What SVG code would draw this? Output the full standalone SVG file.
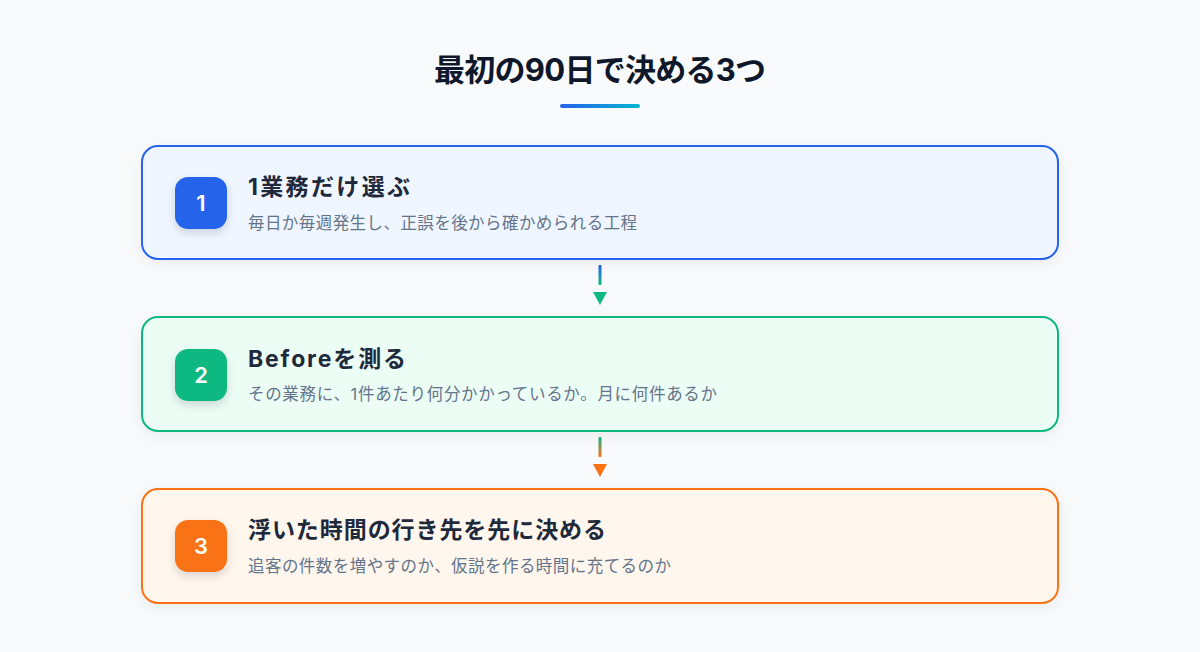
<svg xmlns="http://www.w3.org/2000/svg" width="1200" height="652" viewBox="0 0 1200 652">
<defs>
<linearGradient id="ul" x1="0" y1="0" x2="1" y2="0"><stop offset="0" stop-color="#2563eb"/><stop offset="1" stop-color="#06b6d4"/></linearGradient>
<linearGradient id="c1" x1="0" y1="0" x2="0" y2="1"><stop offset="0" stop-color="#2563eb"/><stop offset="1" stop-color="#10b981"/></linearGradient>
<linearGradient id="c2" x1="0" y1="0" x2="0" y2="1"><stop offset="0" stop-color="#10b981"/><stop offset="1" stop-color="#f97316"/></linearGradient>
<filter id="sh" x="-10%" y="-20%" width="120%" height="150%"><feDropShadow dx="0" dy="4" stdDeviation="8" flood-color="#0f172a" flood-opacity="0.06"/></filter>
<filter id="bsh" x="-40%" y="-40%" width="180%" height="180%"><feDropShadow dx="0" dy="4" stdDeviation="4" flood-color="#0f172a" flood-opacity="0.15"/></filter>
</defs>
<style>
.title{font-family:"Inter","Noto Sans CJK JP",sans-serif;font-weight:700;font-size:31px;fill:#0f172a}
.h{font-family:"Inter","Noto Sans CJK JP",sans-serif;font-weight:700;font-size:23px;fill:#1e293b}
.s{font-family:"Inter","Noto Sans CJK JP",sans-serif;font-size:16.5px;fill:#64748b}
.n{font-family:"Inter","Noto Sans",sans-serif;font-weight:600;font-size:22px;fill:#ffffff}
.box{stroke-width:2}
</style>
<rect width="1200" height="652" fill="#f8fafc"/>
<text class="title" x="600" y="81" text-anchor="middle" textLength="332" lengthAdjust="spacing">最初の90日で決める3つ</text>
<rect x="560" y="104" width="80" height="4" rx="2" fill="url(#ul)"/>
<g id="connectors">
<rect x="598.5" y="265" width="3" height="20" rx="1" fill="url(#c1)"/>
<polygon points="593,292 607,292 600,305" fill="#10b981"/>
<rect x="598.5" y="437" width="3" height="20" rx="1" fill="url(#c2)"/>
<polygon points="593,464 607,464 600,477" fill="#f97316"/>
</g>
<g id="step1">
<rect class="box" x="142" y="146" width="916" height="113" rx="16" fill="#eff6ff" stroke="#2563eb" filter="url(#sh)"/>
<rect x="175" y="177" width="52" height="52" rx="13" fill="#2563eb" filter="url(#bsh)"/>
<text class="n" x="201" y="211" text-anchor="middle">1</text>
<text class="h" x="248" y="195" textLength="162" lengthAdjust="spacing">1業務だけ選ぶ</text>
<text class="s" x="248" y="229" textLength="389" lengthAdjust="spacing">毎日か毎週発生し、正誤を後から確かめられる工程</text>
</g>
<g id="step2">
<rect class="box" x="142" y="317" width="916" height="114" rx="16" fill="#ecfdf5" stroke="#10b981" filter="url(#sh)"/>
<rect x="175" y="349" width="52" height="52" rx="13" fill="#10b981" filter="url(#bsh)"/>
<text class="n" x="201" y="383" text-anchor="middle">2</text>
<text class="h" x="248" y="367" textLength="158" lengthAdjust="spacing">Beforeを測る</text>
<text class="s" x="248" y="400" textLength="469" lengthAdjust="spacing">その業務に、1件あたり何分かかっているか。月に何件あるか</text>
</g>
<g id="step3">
<rect class="box" x="142" y="489" width="916" height="114" rx="16" fill="#fff7ed" stroke="#f97316" filter="url(#sh)"/>
<rect x="175" y="520" width="52" height="52" rx="13" fill="#f97316" filter="url(#bsh)"/>
<text class="n" x="201" y="554" text-anchor="middle">3</text>
<text class="h" x="248" y="538" textLength="358" lengthAdjust="spacing">浮いた時間の行き先を先に決める</text>
<text class="s" x="248" y="572" textLength="423" lengthAdjust="spacing">追客の件数を増やすのか、仮説を作る時間に充てるのか</text>
</g>
</svg>
